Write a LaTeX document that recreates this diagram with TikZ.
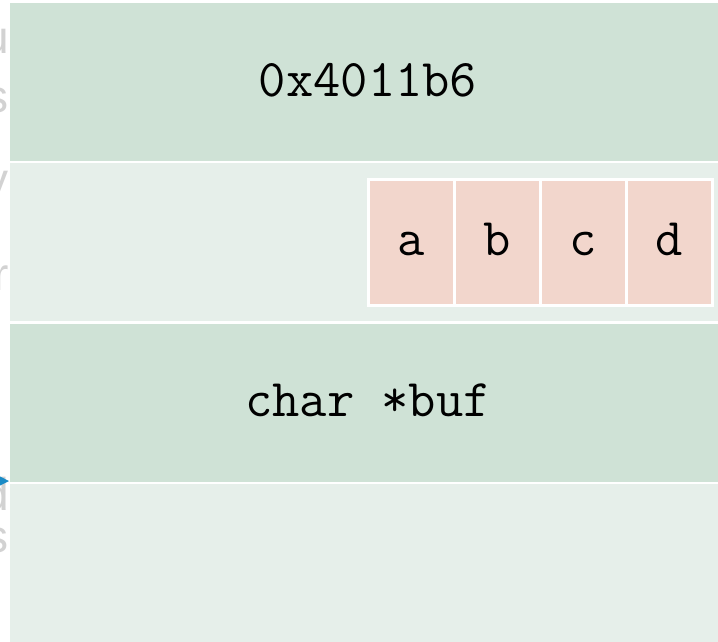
\documentclass[tikz,border=0pt]{standalone}
\usepackage{fontspec}
\setmainfont{Liberation Sans}
\usepackage{tikz}
\usetikzlibrary{positioning,arrows.meta}
\definecolor{slotdark}{HTML}{CFE2D6}
\definecolor{slotlight}{HTML}{E6EFEA}
\definecolor{bytepink}{HTML}{F2D6CC}
\definecolor{faintgrey}{HTML}{D2D2D2}
\definecolor{ptrblue}{HTML}{1B8BC6}

\begin{document}
\begin{tikzpicture}[x=1pt, y=-1pt,
    slot/.style={rectangle, minimum width=708pt, minimum height=158pt, inner sep=0pt, outer sep=0pt,
                 font=\fontsize{53}{60}\selectfont\ttfamily},
    byte/.style={rectangle, draw=white, line width=3pt, fill=bytepink, minimum width=86pt,
                 minimum height=126pt, inner sep=0pt, outer sep=0pt, text height=25pt, text depth=0pt,
                 font=\fontsize{53}{60}\selectfont\ttfamily},
    ghost/.style={anchor=base east, inner sep=0pt, text=faintgrey, font=\fontsize{46}{50}\selectfont}]
    \useasboundingbox (0,0) rectangle (718,641);
    \fill[white] (0,0) rectangle (718,641);
    \clip (0,0) rectangle (718,641);

    % stack slots, top to bottom
    \node[slot, fill=slotdark] (retaddr) at (364,82) {};
    \node[slot, fill=slotlight] (array) at (364,242) {};
    \node[slot, fill=slotdark] (bufptr) at (364,402.5) {};
    \node[slot, fill=slotlight] (below) at (364,562.5) {};
    \node[slot, minimum width=0pt, minimum height=0pt] (retaddr text) at (368,80) {0x4011b6};
    \node[slot, minimum width=0pt, minimum height=0pt] (bufptr text) at (368,400) {char *buf};

    % four bytes of the array
    \node[byte] (ba) at (411.5,242.5) {a};
    \node[byte, right=0pt of ba] (bb) {b};
    \node[byte, right=0pt of bb] (bc) {c};
    \node[byte, right=0pt of bc] (bd) {d};

    % labels cut off at the left edge
    \node[ghost] (g1) at (9,53) {u};
    \node[ghost] (g2) at (9,112) {s};
    \node[ghost] (g3) at (9,195) {y};
    \node[ghost] (g4) at (9,290) {r};
    \node[ghost] (g5) at (9,510) {d};
    \node[ghost] (g6) at (9,552) {s};

    % stack pointer
    \coordinate (sp tail) at (-40,481);
    \coordinate (sp head) at (9,481);
    \draw[ptrblue, line width=2pt, -{Stealth[length=12pt,width=12pt]}] (sp tail) -- (sp head);
\end{tikzpicture}
\end{document}
